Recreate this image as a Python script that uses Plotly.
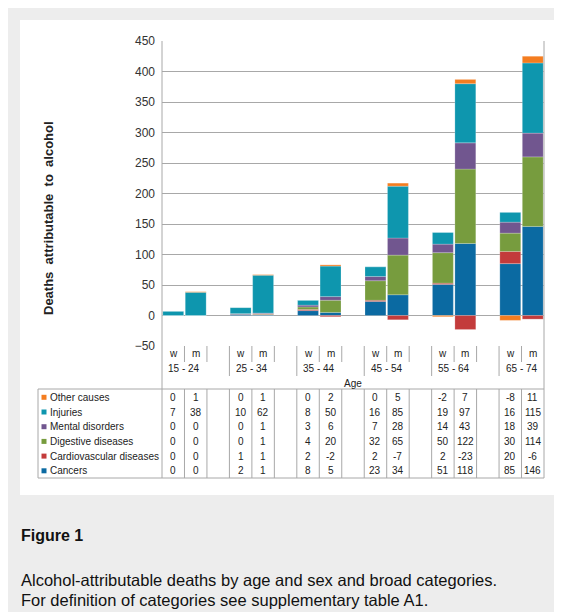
import plotly.graph_objects as go

# ---------------- data ----------------
age_groups = ["15 - 24", "25 - 34", "35 - 44", "45 - 54", "55 - 64", "65 - 74"]
sexes = ["w", "m"]

# values per (age group, sex): w, m, w, m, ...
other_causes = [0, 1, 0, 1, 0, 2, 0, 5, -2, 7, -8, 11]
injuries = [7, 38, 10, 62, 8, 50, 16, 85, 19, 97, 16, 115]
mental_disorders = [0, 0, 0, 1, 3, 6, 7, 28, 14, 43, 18, 39]
digestive_diseases = [0, 0, 0, 1, 4, 20, 32, 65, 50, 122, 30, 114]
cardiovascular_diseases = [0, 0, 1, 1, 2, -2, 2, -7, 2, -23, 20, -6]
cancers = [0, 0, 2, 1, 8, 5, 23, 34, 51, 118, 85, 146]

y_ticks = [-50, 0, 50, 100, 150, 200, 250, 300, 350, 400, 450]

y_title = "Deaths\u00a0 attributable\u00a0 to\u00a0 alcohol"
x_title = "Age"
caption_title = "Figure 1"
caption_line1 = "Alcohol-attributable deaths by age and sex and broad categories."
caption_line2 = "For definition of categories see supplementary table A1."

# stacking order (bottom -> top) and colours
series = [
    ("Cancers", cancers, "#0b6aa2"),
    ("Cardiovascular diseases", cardiovascular_diseases, "#c33b3b"),
    ("Digestive diseases", digestive_diseases, "#779c3e"),
    ("Mental disorders", mental_disorders, "#71568f"),
    ("Injuries", injuries, "#0e96ae"),
    ("Other causes", other_causes, "#f47d20"),
]
table_order = list(reversed(series))  # table rows top -> bottom

# ---------------- layout helpers (page pixel coords; page has 8px body margin) ----------------
OFF = 8
W, H = 562 - OFF, 612 - OFF
PX_L, PX_R, PY_T, PY_B = 162, 544, 41, 346
FONT = "Liberation Sans, Arial, sans-serif"
LINE = "#a8a8a8"
TXT = "#222"


def py(p):
    return (PY_B - p) / (PY_B - PY_T)


def pxp(p):
    return (p - PX_L) / (PX_R - PX_L)


n_groups = len(age_groups)
slot_x = [3 * g + s for g in range(n_groups) for s in range(len(sexes))]
n_slots = 3 * n_groups - 1

fig = go.Figure()
for name, vals, col in series:
    fig.add_trace(go.Bar(
        x=slot_x, y=vals, name=name,
        marker=dict(color=col, line=dict(color="rgba(255,255,255,0.35)", width=0.6)),
        showlegend=False,
    ))

shapes = []
# white panel on grey page background
shapes.append(dict(type="rect", xref="paper", yref="paper", x0=pxp(20), x1=pxp(560),
                   y0=py(495), y1=py(20), fillcolor="white", line=dict(width=0), layer="below"))
# outer left / right frame lines, running down through the table
for xp in (0, 1):
    shapes.append(dict(type="line", xref="paper", yref="paper", x0=xp, x1=xp,
                       y0=py(478), y1=1, line=dict(color=LINE, width=1)))
# category label dividers
for g in range(n_groups):
    for b in (3 * g + 0.5, 3 * g + 1.5):
        if b < n_slots - 0.5:
            shapes.append(dict(type="line", xref="x", yref="paper", x0=b, x1=b,
                               y0=py(362), y1=py(346), line=dict(color=LINE, width=1)))
    if g > 0:
        b = 3 * g - 0.5
        shapes.append(dict(type="line", xref="x", yref="paper", x0=b, x1=b,
                           y0=py(376), y1=py(346), line=dict(color=LINE, width=1)))
# data table grid
for yy in (389, 478):
    shapes.append(dict(type="line", xref="paper", yref="paper", x0=pxp(38), x1=1,
                       y0=py(yy), y1=py(yy), line=dict(color=LINE, width=1)))
shapes.append(dict(type="line", xref="paper", yref="paper", x0=pxp(38), x1=pxp(38),
                   y0=py(478), y1=py(389), line=dict(color=LINE, width=1)))
for k in range(1, n_slots):
    shapes.append(dict(type="line", xref="x", yref="paper", x0=k - 0.5, x1=k - 0.5,
                       y0=py(478), y1=py(389), line=dict(color=LINE, width=1)))

annotations = []


def ann(x, y, text, xref="paper", size=10, xanchor="center", color=TXT, angle=0):
    annotations.append(dict(x=x, y=y, xref=xref, yref="paper", text=text, showarrow=False,
                            xanchor=xanchor, yanchor="middle", textangle=angle,
                            font=dict(family=FONT, size=size, color=color)))


# sex and age labels
for g, age in enumerate(age_groups):
    for s, sx in enumerate(sexes):
        ann(3 * g + s, py(354), sx, xref="x")
    ann(3 * g + 0.5, py(368), age, xref="x")
ann(0.5, py(383), x_title)

# table rows
ROW0, ROWH = 397.3, 14.7
for r, (name, vals, col) in enumerate(table_order):
    yc = ROW0 + ROWH * r
    shapes.append(dict(type="rect", xref="paper", yref="paper", x0=pxp(41.5), x1=pxp(46.5),
                       y0=py(yc + 2.5), y1=py(yc - 2.5), fillcolor=col, line=dict(width=0)))
    ann(pxp(48), py(yc), name, xanchor="left")
    for xi, v in zip(slot_x, vals):
        ann(xi, py(yc), str(v), xref="x")

# y axis title
ann(pxp(48), py(218), "<b>" + y_title + "</b>", size=13, angle=-90)
# caption
ann(pxp(19), py(535), "<b>" + caption_title + "</b>", size=16, xanchor="left", color="#111")
ann(pxp(19), py(580), caption_line1, size=16.5, xanchor="left", color="#111")
ann(pxp(19), py(600), caption_line2, size=16.5, xanchor="left", color="#111")

fig.update_layout(
    width=W, height=H,
    margin=dict(l=PX_L - OFF, r=W - (PX_R - OFF), t=PY_T - OFF, b=H - (PY_B - OFF), pad=0),
    paper_bgcolor="#ededed", plot_bgcolor="rgba(0,0,0,0)",
    barmode="relative", bargap=0.07,
    showlegend=False,
    shapes=shapes, annotations=annotations,
    xaxis=dict(range=[-0.5, n_slots - 0.5], showticklabels=False, showgrid=False,
               zeroline=False, showline=False, ticks=""),
    yaxis=dict(range=[-50, 450], tickvals=y_ticks, showgrid=True, gridcolor=LINE, gridwidth=1,
               zeroline=False, showline=False, ticks="", ticklabelstandoff=6,
               tickfont=dict(family=FONT, size=12, color="#333")),
)

fig.write_html("out.html")
